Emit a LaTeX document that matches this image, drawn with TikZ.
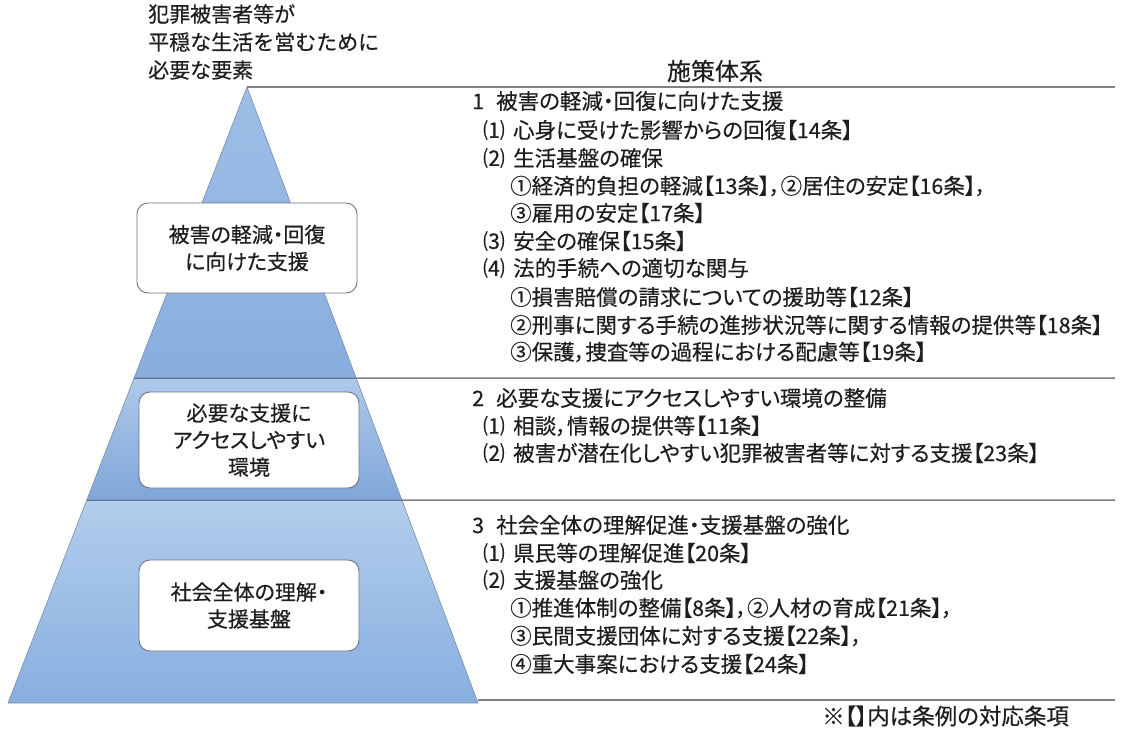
\documentclass[tikz,border=0pt]{standalone}
\usepackage{fontspec}
\newfontfamily\jp[RawFeature={+palt},FakeBold=0.4]{Noto Sans CJK JP}
\newfontfamily\jpw[FakeBold=0.4]{Noto Sans CJK JP}
\usetikzlibrary{calc}
\definecolor{bandAtop}{RGB}{158,190,230}
\definecolor{bandAbot}{RGB}{136,174,222}
\definecolor{bandBtop}{RGB}{174,201,234}
\definecolor{bandBbot}{RGB}{128,166,216}
\definecolor{bandCtop}{RGB}{178,205,236}
\definecolor{bandCbot}{RGB}{136,175,223}
\definecolor{edgecol}{RGB}{120,140,175}
\definecolor{sepcol}{RGB}{95,115,145}
\definecolor{rulecol}{RGB}{128,128,128}
\definecolor{boxline}{RGB}{105,115,135}
\definecolor{txt}{RGB}{30,30,30}
\begin{document}
\begin{tikzpicture}[x=1pt,y=-1pt,
  item/.style={anchor=west,inner sep=0pt,text=txt,font=\jp\fontsize{21.5}{24}\selectfont},
  boxnode/.style={draw=boxline,line width=0.9pt,fill=white,rounded corners=11pt,
    minimum width=220pt,inner sep=0pt,align=center,text=txt,
    font=\jp\fontsize{21}{27}\selectfont},
  rule/.style={draw=rulecol,line width=1.5pt},
  sep/.style={draw=sepcol,line width=0.9pt},
  band/.style={draw=edgecol,line width=0.6pt},
  head/.style={inner sep=0pt,text=txt,font=\jpw\fontsize{21}{28}\selectfont}]
\useasboundingbox (0,0) rectangle (1132,729);
% pyramid corners
\coordinate (A) at (247,87);
\coordinate (BL) at (8,703);
\coordinate (BR) at (478,703);
\coordinate (L1) at ($(A)!0.4724!(BL)$);
\coordinate (R1) at ($(A)!0.4724!(BR)$);
\coordinate (L2) at ($(A)!0.6705!(BL)$);
\coordinate (R2) at ($(A)!0.6705!(BR)$);
% bands
\shade[band,top color=bandAtop,bottom color=bandAbot] (A) -- (R1) -- (L1) -- cycle;
\shade[band,top color=bandBtop,bottom color=bandBbot] (L1) -- (R1) -- (R2) -- (L2) -- cycle;
\shade[band,top color=bandCtop,bottom color=bandCbot] (L2) -- (R2) -- (BR) -- (BL) -- cycle;
\draw[sep] (L1) -- (R1);
\draw[sep] (L2) -- (R2);
% right-hand rules
\coordinate (E0) at (1115,87);
\coordinate (E1) at (1115,378);
\coordinate (E2) at (1115,500);
\coordinate (E3) at (1115,700);
\coordinate (BRr) at (478,700);
\draw[rule] (A) -- (E0);
\draw[rule] (R1) -- (E1);
\draw[rule] (R2) -- (E2);
\draw[rule] (BRr) -- (E3);
% headings
\node[head,anchor=north west,align=left] (title) at (148,4) {犯罪被害者等が\\平穏な生活を営むために\\必要な要素};
\node[head,font=\jpw\fontsize{24}{28}\selectfont] (taikei) at (715,71) {施策体系};
% boxes
\node[boxnode,minimum height=90pt] (b1) at (247,248) {被害の軽減・回復\\に向けた支援};
\node[boxnode,minimum height=96pt] (b2) at (249,440) {必要な支援に\\アクセスしやすい\\環境};
\node[boxnode,minimum height=91pt] (b3) at (249,605.5) {社会全体の理解・\\支援基盤};
% section 1
\node[item] (s1) at (472,101) {\makebox[24pt][l]{1}被害の軽減・回復に向けた支援};
\node[item] (s11) at (483,130) {\makebox[30pt][l]{⑴}心身に受けた影響からの回復【14条】};
\node[item] (s12) at (483,158) {\makebox[30pt][l]{⑵}生活基盤の確保};
\node[item] (s121) at (510,186) {①経済的負担の軽減【13条】，②居住の安定【16条】，};
\node[item] (s122) at (510,213) {③雇用の安定【17条】};
\node[item] (s13) at (483,241) {\makebox[30pt][l]{⑶}安全の確保【15条】};
\node[item] (s14) at (483,268) {\makebox[30pt][l]{⑷}法的手続への適切な関与};
\node[item] (s141) at (510,297) {①損害賠償の請求についての援助等【12条】};
\node[item] (s142) at (510,325) {②刑事に関する手続の進捗状況等に関する情報の提供等【18条】};
\node[item] (s143) at (510,352) {③保護，捜査等の過程における配慮等【19条】};
% section 2
\node[item] (s2) at (472,398) {\makebox[24pt][l]{2}必要な支援にアクセスしやすい環境の整備};
\node[item] (s21) at (483,426) {\makebox[30pt][l]{⑴}相談，情報の提供等【11条】};
\node[item] (s22) at (483,453) {\makebox[30pt][l]{⑵}被害が潜在化しやすい犯罪被害者等に対する支援【23条】};
% section 3
\node[item] (s3) at (472,525) {\makebox[24pt][l]{3}社会全体の理解促進・支援基盤の強化};
\node[item] (s31) at (483,553) {\makebox[30pt][l]{⑴}県民等の理解促進【20条】};
\node[item] (s32) at (483,580) {\makebox[30pt][l]{⑵}支援基盤の強化};
\node[item] (s321) at (510,608) {①推進体制の整備【8条】，②人材の育成【21条】，};
\node[item] (s322) at (510,636) {③民間支援団体に対する支援【22条】，};
\node[item] (s323) at (510,664) {④重大事案における支援【24条】};
% footnote
\node[item,font=\jp\fontsize{22.5}{24}\selectfont] (note) at (822,716) {※【】内は条例の対応条項};
\end{tikzpicture}
\end{document}
